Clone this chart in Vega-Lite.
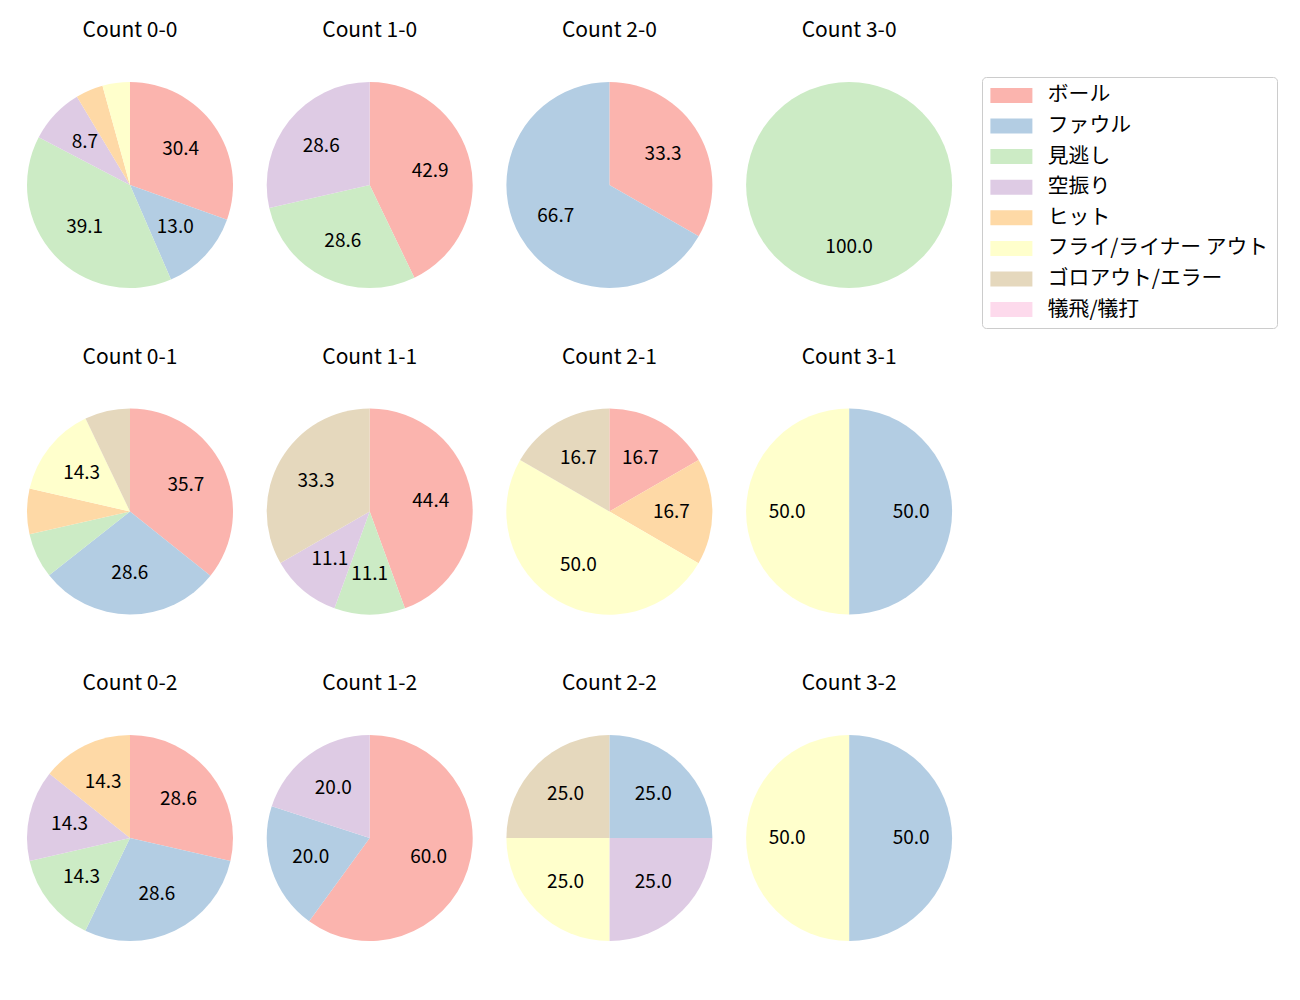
{
  "$schema": "https://vega.github.io/schema/vega-lite/v6.json",
  "padding": {"left": 27, "top": 20, "right": 5, "bottom": 5},
  "background": "white",
  "data": {"values": [
    {"count": "Count 0-0", "kind": "ボール", "k": 0, "pct": 30.4},
    {"count": "Count 0-0", "kind": "ファウル", "k": 1, "pct": 13.0},
    {"count": "Count 0-0", "kind": "見逃し", "k": 2, "pct": 39.1},
    {"count": "Count 0-0", "kind": "空振り", "k": 3, "pct": 8.7},
    {"count": "Count 0-0", "kind": "ヒット", "k": 4, "pct": 4.3},
    {"count": "Count 0-0", "kind": "フライ/ライナー アウト", "k": 5, "pct": 4.3},
    {"count": "Count 1-0", "kind": "ボール", "k": 0, "pct": 42.9},
    {"count": "Count 1-0", "kind": "見逃し", "k": 2, "pct": 28.6},
    {"count": "Count 1-0", "kind": "空振り", "k": 3, "pct": 28.6},
    {"count": "Count 2-0", "kind": "ボール", "k": 0, "pct": 33.3},
    {"count": "Count 2-0", "kind": "ファウル", "k": 1, "pct": 66.7},
    {"count": "Count 3-0", "kind": "見逃し", "k": 2, "pct": 100.0},
    {"count": "Count 0-1", "kind": "ボール", "k": 0, "pct": 35.7},
    {"count": "Count 0-1", "kind": "ファウル", "k": 1, "pct": 28.6},
    {"count": "Count 0-1", "kind": "見逃し", "k": 2, "pct": 7.1},
    {"count": "Count 0-1", "kind": "ヒット", "k": 4, "pct": 7.1},
    {"count": "Count 0-1", "kind": "フライ/ライナー アウト", "k": 5, "pct": 14.3},
    {"count": "Count 0-1", "kind": "ゴロアウト/エラー", "k": 6, "pct": 7.1},
    {"count": "Count 1-1", "kind": "ボール", "k": 0, "pct": 44.4},
    {"count": "Count 1-1", "kind": "見逃し", "k": 2, "pct": 11.1},
    {"count": "Count 1-1", "kind": "空振り", "k": 3, "pct": 11.1},
    {"count": "Count 1-1", "kind": "ゴロアウト/エラー", "k": 6, "pct": 33.3},
    {"count": "Count 2-1", "kind": "ボール", "k": 0, "pct": 16.7},
    {"count": "Count 2-1", "kind": "ヒット", "k": 4, "pct": 16.7},
    {"count": "Count 2-1", "kind": "フライ/ライナー アウト", "k": 5, "pct": 50.0},
    {"count": "Count 2-1", "kind": "ゴロアウト/エラー", "k": 6, "pct": 16.7},
    {"count": "Count 3-1", "kind": "ファウル", "k": 1, "pct": 50.0},
    {"count": "Count 3-1", "kind": "フライ/ライナー アウト", "k": 5, "pct": 50.0},
    {"count": "Count 0-2", "kind": "ボール", "k": 0, "pct": 28.6},
    {"count": "Count 0-2", "kind": "ファウル", "k": 1, "pct": 28.6},
    {"count": "Count 0-2", "kind": "見逃し", "k": 2, "pct": 14.3},
    {"count": "Count 0-2", "kind": "空振り", "k": 3, "pct": 14.3},
    {"count": "Count 0-2", "kind": "ヒット", "k": 4, "pct": 14.3},
    {"count": "Count 1-2", "kind": "ボール", "k": 0, "pct": 60.0},
    {"count": "Count 1-2", "kind": "ファウル", "k": 1, "pct": 20.0},
    {"count": "Count 1-2", "kind": "空振り", "k": 3, "pct": 20.0},
    {"count": "Count 2-2", "kind": "ファウル", "k": 1, "pct": 25.0},
    {"count": "Count 2-2", "kind": "空振り", "k": 3, "pct": 25.0},
    {"count": "Count 2-2", "kind": "フライ/ライナー アウト", "k": 5, "pct": 25.0},
    {"count": "Count 2-2", "kind": "ゴロアウト/エラー", "k": 6, "pct": 25.0},
    {"count": "Count 3-2", "kind": "ファウル", "k": 1, "pct": 50.0},
    {"count": "Count 3-2", "kind": "フライ/ライナー アウト", "k": 5, "pct": 50.0}
  ]},
  "columns": 4,
  "spacing": {"row": 58.5, "column": 33.7},
  "facet": {
    "field": "count", "type": "nominal",
    "sort": ["Count 0-0", "Count 1-0", "Count 2-0", "Count 3-0", "Count 0-1", "Count 1-1", "Count 2-1", "Count 3-1", "Count 0-2", "Count 1-2", "Count 2-2", "Count 3-2"],
    "header": {"title": null, "labelFontSize": 21, "labelFont": "Noto Sans CJK JP", "labelColor": "black", "labelPadding": 41}
  },
  "spec": {
    "width": 206,
    "height": 206,
    "view": {"stroke": null},
    "layer": [
      {
        "mark": {"type": "arc"},
        "encoding": {
          "theta": {"field": "pct", "type": "quantitative", "stack": true},
          "order": {"field": "k", "type": "quantitative"},
          "color": {
            "field": "kind", "type": "nominal",
            "scale": {
              "domain": ["ボール", "ファウル", "見逃し", "空振り", "ヒット", "フライ/ライナー アウト", "ゴロアウト/エラー", "犠飛/犠打"],
              "range": ["#fbb4ae", "#b3cde3", "#ccebc5", "#decbe4", "#fed9a6", "#ffffcc", "#e5d8bd", "#fddaec"]
            },
            "legend": {
              "title": null,
              "orient": "none",
              "legendX": 955,
              "legendY": -5,
              "labelFont": "Noto Sans CJK JP",
              "labelFontSize": 20.8,
              "labelColor": "black",
              "labelLimit": 400,
              "symbolType": "M-3,-1.07H3V1.07H-3Z",
              "symbolSize": 196,
              "symbolStrokeWidth": 0,
              "symbolOpacity": 1,
              "symbolOffset": 11,
              "labelOffset": 26,
              "rowPadding": 8.6,
              "titlePadding": 0,
              "strokeColor": "#cccccc",
              "cornerRadius": 4,
              "padding": 8,
              "fillColor": "white"
            }
          }
        }
      },
      {
        "mark": {"type": "text", "radius": 62, "fontSize": 19, "font": "Noto Sans CJK JP", "color": "black"},
        "encoding": {
          "theta": {"field": "pct", "type": "quantitative", "stack": true},
          "order": {"field": "k", "type": "quantitative"},
          "text": {"condition": {"test": "datum.pct < 8", "value": ""}, "field": "pct", "type": "quantitative", "format": ".1f"}
        }
      }
    ]
  },
  "resolve": {"scale": {"theta": "independent"}}
}
